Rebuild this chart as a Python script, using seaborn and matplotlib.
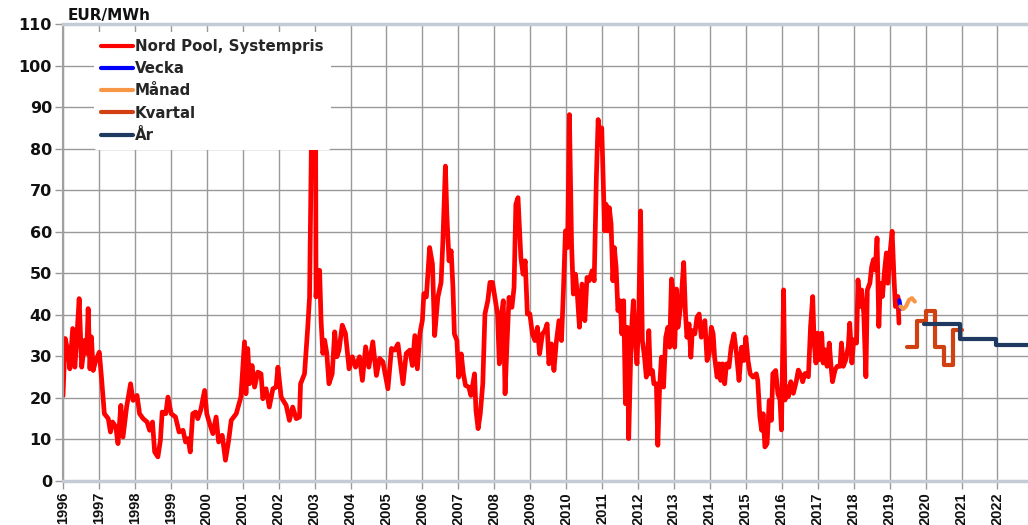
import matplotlib
matplotlib.use("Agg")
import matplotlib.pyplot as plt
import pandas as pd
import seaborn as sns

# Nord Pool systempris (weekly), EUR/MWh
spot_years = [
    1996.00, 1996.06, 1996.15, 1996.19, 1996.27, 1996.33, 1996.38, 1996.45, 1996.52, 1996.61,
    1996.66, 1996.70, 1996.75, 1996.79, 1996.84, 1996.91, 1997.01, 1997.07, 1997.15, 1997.26,
    1997.32, 1997.38, 1997.47, 1997.53, 1997.61, 1997.67, 1997.77, 1997.88, 1997.95, 1998.06,
    1998.13, 1998.23, 1998.34, 1998.41, 1998.49, 1998.55, 1998.64, 1998.71, 1998.76, 1998.86,
    1998.92, 1999.01, 1999.13, 1999.23, 1999.34, 1999.41, 1999.48, 1999.54, 1999.61, 1999.69,
    1999.75, 1999.83, 1999.94, 2000.00, 2000.08, 2000.17, 2000.26, 2000.33, 2000.43, 2000.52,
    2000.61, 2000.68, 2000.82, 2000.95, 2001.05, 2001.09, 2001.14, 2001.19, 2001.26, 2001.33,
    2001.42, 2001.51, 2001.56, 2001.65, 2001.74, 2001.84, 2001.93, 2001.98, 2002.07, 2002.21,
    2002.30, 2002.39, 2002.49, 2002.58, 2002.61, 2002.72, 2002.81, 2002.86, 2002.91, 2003.03,
    2003.04, 2003.09, 2003.14, 2003.18, 2003.23, 2003.28, 2003.34, 2003.40, 2003.49, 2003.56,
    2003.62, 2003.68, 2003.77, 2003.86, 2003.96, 2004.05, 2004.14, 2004.25, 2004.33, 2004.42,
    2004.51, 2004.62, 2004.72, 2004.81, 2004.90, 2005.04, 2005.14, 2005.23, 2005.32, 2005.46,
    2005.55, 2005.65, 2005.72, 2005.79, 2005.86, 2005.93, 2006.00, 2006.04, 2006.11, 2006.20,
    2006.28, 2006.34, 2006.43, 2006.52, 2006.57, 2006.64, 2006.68, 2006.74, 2006.80, 2006.85,
    2006.89, 2006.96, 2007.01, 2007.08, 2007.14, 2007.20, 2007.29, 2007.35, 2007.45, 2007.49,
    2007.55, 2007.61, 2007.68, 2007.74, 2007.82, 2007.88, 2007.95, 2008.03, 2008.09, 2008.14,
    2008.18, 2008.25, 2008.30, 2008.35, 2008.41, 2008.49, 2008.55, 2008.60, 2008.66, 2008.74,
    2008.80, 2008.86, 2008.92, 2008.99, 2009.06, 2009.13, 2009.20, 2009.26, 2009.34, 2009.41,
    2009.47, 2009.52, 2009.59, 2009.66, 2009.72, 2009.80, 2009.87, 2009.92, 2009.98, 2010.04,
    2010.09, 2010.15, 2010.20, 2010.26, 2010.31, 2010.37, 2010.44, 2010.52, 2010.58, 2010.64,
    2010.72, 2010.78, 2010.84, 2010.89, 2010.94, 2010.99, 2011.07, 2011.11, 2011.16, 2011.20,
    2011.25, 2011.30, 2011.34, 2011.39, 2011.44, 2011.50, 2011.55, 2011.60, 2011.65, 2011.70,
    2011.74, 2011.81, 2011.87, 2011.92, 2011.97, 2012.02, 2012.07, 2012.12, 2012.18, 2012.23,
    2012.30, 2012.34, 2012.40, 2012.44, 2012.51, 2012.55, 2012.60, 2012.65, 2012.71, 2012.77,
    2012.83, 2012.88, 2012.93, 2012.97, 2013.02, 2013.07, 2013.11, 2013.19, 2013.27, 2013.32,
    2013.36, 2013.42, 2013.47, 2013.51, 2013.58, 2013.64, 2013.70, 2013.76, 2013.81, 2013.86,
    2013.92, 2013.98, 2014.04, 2014.09, 2014.13, 2014.20, 2014.26, 2014.30, 2014.35, 2014.41,
    2014.46, 2014.53, 2014.59, 2014.67, 2014.74, 2014.81, 2014.88, 2014.94, 2015.00, 2015.06,
    2015.12, 2015.20, 2015.29, 2015.33, 2015.39, 2015.44, 2015.48, 2015.53, 2015.59, 2015.65,
    2015.71, 2015.75, 2015.83, 2015.89, 2015.95, 2015.99, 2016.05, 2016.09, 2016.14, 2016.18,
    2016.25, 2016.32, 2016.40, 2016.46, 2016.53, 2016.58, 2016.65, 2016.74, 2016.80, 2016.86,
    2016.90, 2016.95, 2017.00, 2017.04, 2017.11, 2017.15, 2017.20, 2017.26, 2017.32, 2017.37,
    2017.41, 2017.48, 2017.54, 2017.62, 2017.66, 2017.71, 2017.78, 2017.85, 2017.89, 2017.95,
    2018.00, 2018.08, 2018.12, 2018.17, 2018.22, 2018.28, 2018.34, 2018.38, 2018.45, 2018.50,
    2018.55, 2018.60, 2018.65, 2018.70, 2018.74, 2018.80, 2018.86, 2018.91, 2018.95, 2019.02,
    2019.07, 2019.12, 2019.16, 2019.23, 2019.26,
]
spot_values = [
    20.5, 34.3, 30.7, 27.0, 36.7, 27.4, 33.9, 43.9, 27.4, 33.9,
    30.7, 41.5, 27.0, 34.7, 26.6, 29.0, 31.0, 25.0, 16.2, 15.0,
    11.8, 14.2, 13.0, 9.0, 18.2, 10.6, 17.8, 23.4, 19.4, 20.6,
    16.2, 15.0, 14.2, 12.2, 14.2, 7.0, 5.8, 9.8, 16.6, 16.2,
    20.2, 16.2, 15.4, 11.8, 12.2, 9.4, 10.2, 7.0, 16.2, 16.6,
    15.0, 17.0, 21.8, 16.2, 13.8, 11.4, 15.4, 9.4, 11.0, 5.0,
    9.8, 14.6, 16.2, 20.2, 33.5, 21.0, 31.9, 23.4, 27.8, 22.6,
    26.2, 25.8, 19.8, 22.2, 17.8, 22.2, 22.6, 27.4, 20.2, 18.2,
    14.6, 17.8, 15.0, 15.4, 23.4, 25.8, 37.0, 44.3, 80.0, 80.0,
    44.3, 50.7, 50.7, 38.7, 30.7, 33.9, 30.7, 23.4, 25.8, 35.9,
    29.9, 31.5, 37.5, 35.5, 27.0, 29.9, 27.4, 29.9, 24.2, 32.3,
    27.4, 33.5, 25.4, 29.5, 28.7, 22.2, 31.9, 31.5, 33.0, 23.4,
    30.7, 31.5, 27.8, 35.0, 27.0, 35.5, 38.7, 45.1, 44.3, 56.2,
    52.2, 35.0, 44.2, 47.8, 57.8, 75.8, 64.2, 53.0, 55.4, 46.6,
    35.4, 33.8, 25.0, 30.6, 25.8, 23.0, 22.6, 20.6, 25.8, 17.0,
    12.6, 16.2, 23.4, 40.2, 43.4, 47.8, 47.8, 43.4, 40.2, 28.2,
    38.6, 43.4, 21.0, 32.2, 44.2, 41.8, 46.6, 66.6, 68.2, 53.8,
    49.8, 53.0, 40.2, 40.2, 35.4, 33.8, 37.0, 30.6, 35.4, 36.2,
    37.8, 28.2, 33.0, 26.6, 33.0, 38.6, 33.8, 45.0, 60.2, 56.2,
    88.2, 57.0, 45.0, 49.8, 45.0, 37.0, 47.4, 38.6, 49.0, 48.2,
    50.6, 48.2, 73.0, 87.0, 81.0, 85.0, 60.2, 66.6, 60.2, 65.8,
    61.8, 48.2, 56.2, 51.4, 41.0, 43.4, 35.4, 43.4, 18.6, 37.0,
    10.2, 35.4, 43.4, 33.8, 28.2, 40.2, 65.0, 33.8, 29.8, 25.0,
    36.2, 25.8, 26.6, 23.4, 23.4, 8.6, 22.6, 29.8, 22.6, 34.6,
    37.0, 32.2, 48.6, 45.8, 32.2, 46.2, 37.0, 42.6, 52.6, 40.2,
    34.6, 37.8, 29.8, 36.2, 35.4, 39.4, 40.2, 34.6, 37.0, 38.6,
    29.0, 30.6, 37.0, 35.4, 29.8, 25.0, 28.2, 24.2, 28.2, 23.4,
    28.2, 27.4, 32.2, 35.4, 30.6, 24.2, 32.2, 29.0, 34.6, 29.0,
    25.8, 25.0, 25.8, 24.2, 15.4, 12.2, 16.2, 8.2, 9.0, 19.4,
    14.6, 25.8, 26.6, 21.0, 19.5, 12.3, 46.0, 19.5, 22.7, 20.3,
    23.9, 21.1, 23.9, 26.7, 25.5, 23.9, 25.9, 25.1, 37.2, 44.4,
    33.2, 28.4, 35.6, 29.2, 35.6, 28.4, 31.6, 27.6, 33.2, 27.6,
    23.9, 26.7, 27.6, 27.6, 33.2, 27.6, 29.2, 32.4, 38.0, 28.4,
    34.0, 33.2, 48.4, 42.0, 46.0, 40.4, 25.1, 46.0, 47.6, 51.6,
    53.3, 50.8, 58.5, 37.2, 47.6, 44.4, 50.8, 54.9, 47.6, 55.7,
    60.1, 49.2, 42.0, 44.4, 38.0,
]

# Forward prices
vecka_years = [2019.27, 2019.30, 2019.33]
vecka_values = [43.5, 42.0, 41.5]

manad_years = [2019.30, 2019.38, 2019.46, 2019.54, 2019.62, 2019.70]
manad_values = [42.0, 41.4, 42.1, 43.6, 44.0, 43.2]

kvartal_years = [2019.47, 2019.75, 2020.00, 2020.25, 2020.50, 2020.75, 2021.00]
kvartal_values = [32.3, 38.6, 41.0, 32.2, 27.9, 36.3, 36.3]

ar_years = [2019.95, 2020.97, 2021.97, 2022.90]
ar_values = [37.9, 34.2, 32.7, 32.7]

series_names = ["Nord Pool, Systempris", "Vecka", "Månad", "Kvartal", "År"]
series_colors = ["#FF0000", "#0000FF", "#F79646", "#D04010", "#1F3A60"]

year_ticks = list(range(1996, 2023))
price_ticks = list(range(0, 111, 10))

sns.set_theme(style="whitegrid")
plt.rcParams['font.family'] = ['DejaVu Sans']

fig = plt.figure(figsize=(10.28, 5.25), dpi=100)
ax = fig.add_axes([63 / 1028, 44 / 525, 965 / 1028, 457 / 525])

spot = pd.DataFrame({"year": spot_years, "price": spot_values})
vecka = pd.DataFrame({"year": vecka_years, "price": vecka_values})
manad = pd.DataFrame({"year": manad_years, "price": manad_values})
kvartal = pd.DataFrame({"year": kvartal_years, "price": kvartal_values})
ar = pd.DataFrame({"year": ar_years, "price": ar_values})

sns.lineplot(data=spot, x="year", y="price", ax=ax, color=series_colors[0],
             linewidth=3.4, estimator=None, sort=False, label=series_names[0])
sns.lineplot(data=vecka, x="year", y="price", ax=ax, color=series_colors[1],
             linewidth=3.0, estimator=None, sort=False, label=series_names[1])
sns.lineplot(data=manad, x="year", y="price", ax=ax, color=series_colors[2],
             linewidth=3.0, estimator=None, sort=False, label=series_names[2])
sns.lineplot(data=kvartal, x="year", y="price", ax=ax, color=series_colors[3],
             linewidth=3.0, estimator=None, sort=False, drawstyle="steps-post",
             label=series_names[3])
sns.lineplot(data=ar, x="year", y="price", ax=ax, color=series_colors[4],
             linewidth=3.0, estimator=None, sort=False, drawstyle="steps-post",
             label=series_names[4])

ax.set_xlim(1996, 2022.85)
ax.set_ylim(0, 110)
ax.set_xticks(year_ticks)
ax.set_yticks(price_ticks)
ax.set_xticklabels([str(y) for y in year_ticks], rotation=90, fontweight="bold",
                   fontsize=10.5, family=["Liberation Sans", "DejaVu Sans"])
ax.set_yticklabels([str(v) for v in price_ticks], fontweight="bold", fontsize=11.5)
ax.set_xlabel("")
ax.set_ylabel("")

ax.set_facecolor("white")
ax.grid(True, color="#999999", linewidth=1.0)
ax.tick_params(axis="both", which="major", length=6, width=1, color="#999999",
               direction="out", pad=2, labelcolor="#111111")
ax.tick_params(axis="x", bottom=True)
ax.tick_params(axis="y", left=True)

for side in ["top", "bottom"]:
    ax.spines[side].set_color("#C3CCD6")
    ax.spines[side].set_linewidth(2.5)
ax.spines["left"].set_color("#A0A0A0")
ax.spines["left"].set_linewidth(1.5)
ax.spines["right"].set_visible(False)

leg = ax.legend(loc="upper left", bbox_to_anchor=(0.024, 1.0), frameon=True,
                facecolor="white", edgecolor="none", framealpha=1.0,
                prop={"weight": "bold", "size": 10.8}, handlelength=2.1,
                handletextpad=0.15, labelspacing=0.48, borderpad=0.5)
for line in leg.get_lines():
    line.set_linewidth(3.0)

fig.text(68 / 1028, 1 - 20 / 525, "EUR/MWh", fontsize=11, fontweight="bold",
         color="#111111", va="baseline", ha="left")

fig.savefig("out.png", dpi=100, facecolor="white")
